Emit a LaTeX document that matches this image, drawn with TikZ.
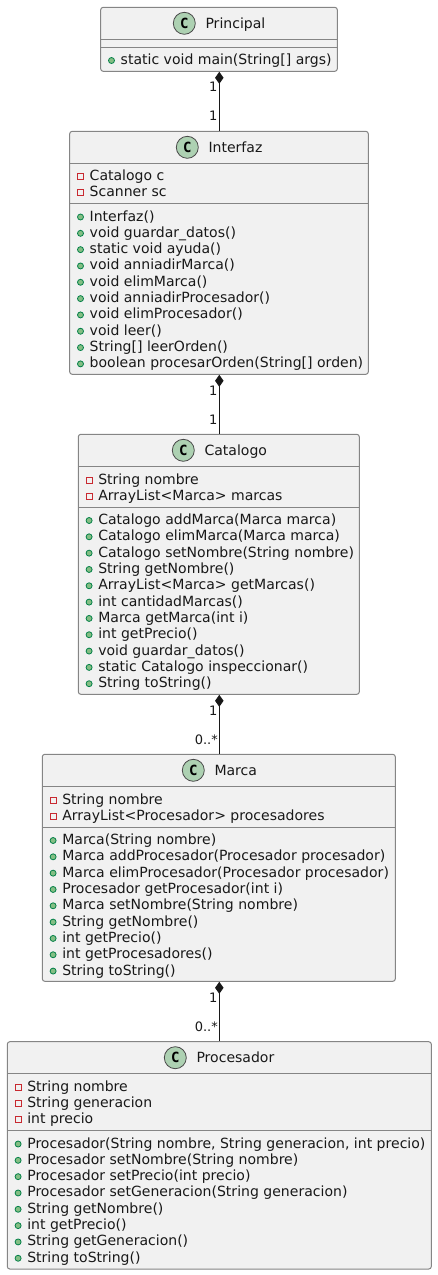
\documentclass[tikz,border=0pt]{standalone}
\usepackage{fontspec}
\setmainfont{DejaVu Sans}
\newfontfamily\cfont{DejaVu Sans Mono}
\usetikzlibrary{arrows.meta}
\definecolor{umlline}{HTML}{181818}
\definecolor{boxline}{HTML}{858585}
\definecolor{umlfill}{HTML}{F1F1F1}
\definecolor{umlspot}{HTML}{ADD1B2}
\definecolor{spotline}{HTML}{4A4A4A}
\definecolor{pubfill}{HTML}{84BE84}
\definecolor{publine}{HTML}{038048}
\definecolor{privline}{HTML}{C82930}
\tikzset{
  x=1pt,y=-1pt,
  classbox/.style={draw=boxline,fill=umlfill,line width=1pt,rounded corners=2.5pt,inner sep=0pt,anchor=center},
  sepline/.style={draw=boxline,line width=1pt},
  spot/.style={circle,draw=spotline,fill=umlspot,line width=0.8pt,minimum size=22pt,inner sep=0pt},
  spotletter/.style={font=\cfont\bfseries\fontsize{14}{16}\selectfont,inner sep=0pt,text=black},
  titletext/.style={font=\fontsize{14.04}{16}\selectfont,anchor=base west,inner sep=0pt,text=umlline},
  rowtext/.style={font=\fontsize{14.04}{16}\selectfont,anchor=base west,inner sep=0pt,text=umlline},
  pubicon/.style={circle,draw=publine,fill=pubfill,line width=0.8pt,minimum size=6pt,inner sep=0pt},
  privicon/.style={rectangle,draw=privline,fill=none,line width=0.8pt,minimum size=6pt,inner sep=0pt},
  mult/.style={font=\fontsize{13}{15}\selectfont,anchor=base east,inner sep=0pt,text=umlline},
  compo/.style={draw=umlline,line width=1pt,{Diamond[length=12pt,width=8.5pt,fill=umlline]}-},
}
% id, x1, y1, x2, y2, header line, attribute line, spot x, title
\newcommand{\umlbox}[9]{
  \pgfmathsetmacro{\bw}{#4-#2}
  \pgfmathsetmacro{\bh}{#5-#3}
  \pgfmathsetmacro{\bcx}{(#4+#2)/2}
  \pgfmathsetmacro{\bcy}{(#5+#3)/2}
  \pgfmathsetmacro{\spy}{#3+16}
  \pgfmathsetmacro{\tty}{#3+21}
  \pgfmathsetmacro{\ttx}{#8+21}
  \node[classbox,minimum width=\bw pt,minimum height=\bh pt] (#1) at (\bcx,\bcy) {};
  \draw[sepline] (#2,#6) -- (#4,#6);
  \draw[sepline] (#2,#7) -- (#4,#7);
  \node[spot] (#1-spot) at (#8,\spy) {};
  \node[spotletter] (#1-c) at (#8,\spy) {C};
  \node[titletext] (#1-title) at (\ttx,\tty) {#9};
}
% id, box left, first baseline, icon style, list
\newcommand{\umlrows}[5]{
  \foreach \t [count=\i from 0] in {#5} {
    \pgfmathsetmacro{\ry}{#3+16.32*\i}
    \pgfmathsetmacro{\iy}{\ry-4}
    \pgfmathsetmacro{\ix}{#2+10.8}
    \pgfmathsetmacro{\tx}{#2+19.8}
    \node[#4] (#1-#4-i\i) at (\ix,\iy) {};
    \node[rowtext] (#1-#4-t\i) at (\tx,\ry) {\t};
  }
}
\begin{document}
\begin{tikzpicture}
\useasboundingbox (0,0) rectangle (437,1275);
\coordinate (axis) at (219.3,0);

\umlbox{principal}{100.7}{7.3}{337.3}{71.3}{39.3}{47.3}{184.3}{Principal}
\umlrows{principal}{100.7}{64.5}{pubicon}{{static void main(String[] args)}}

\umlbox{interfaz}{69.7}{131.3}{368.3}{374.3}{163.3}{203.7}{187.3}{Interfaz}
\umlrows{interfaz}{69.7}{180.5}{privicon}{{Catalogo c},{Scanner sc}}
\umlrows{interfaz}{69.7}{221}{pubicon}{{Interfaz()},{void guardar\_datos()},{static void ayuda()},{void anniadirMarca()},{void elimMarca()},{void anniadirProcesador()},{void elimProcesador()},{void leer()},{String[] leerOrden()},{boolean procesarOrden(String[] orden)}}

\umlbox{catalogo}{78.3}{434.3}{359.3}{694.3}{466.3}{507.3}{183.3}{Catalogo}
\umlrows{catalogo}{78.3}{484}{privicon}{{String nombre},{ArrayList<Marca> marcas}}
\umlrows{catalogo}{78.3}{524.5}{pubicon}{{Catalogo addMarca(Marca marca)},{Catalogo elimMarca(Marca marca)},{Catalogo setNombre(String nombre)},{String getNombre()},{ArrayList<Marca> getMarcas()},{int cantidadMarcas()},{Marca getMarca(int i)},{int getPrecio()},{void guardar\_datos()},{static Catalogo inspeccionar()},{String toString()}}

\umlbox{marca}{42.3}{754.3}{395.3}{981.3}{786.3}{827.3}{193.3}{Marca}
\umlrows{marca}{42.3}{804}{privicon}{{String nombre},{ArrayList<Procesador> procesadores}}
\umlrows{marca}{42.3}{844.5}{pubicon}{{Marca(String nombre)},{Marca addProcesador(Procesador procesador)},{Marca elimProcesador(Procesador procesador)},{Procesador getProcesador(int i)},{Marca setNombre(String nombre)},{String getNombre()},{int getPrecio()},{int getProcesadores()},{String toString()}}

\umlbox{procesador}{7.3}{1041.7}{431.3}{1269}{1073.3}{1130}{175.3}{Procesador}
\umlrows{procesador}{7.3}{1091}{privicon}{{String nombre},{String generacion},{int precio}}
\umlrows{procesador}{7.3}{1148}{pubicon}{{Procesador(String nombre, String generacion, int precio)},{Procesador setNombre(String nombre)},{Procesador setPrecio(int precio)},{Procesador setGeneracion(String generacion)},{String getNombre()},{int getPrecio()},{String getGeneracion()},{String toString()}}

\draw[compo] (axis |- principal.south) -- (axis |- interfaz.north);
\draw[compo] (axis |- interfaz.south) -- (axis |- catalogo.north);
\draw[compo] (axis |- catalogo.south) -- (axis |- marca.north);
\draw[compo] (axis |- marca.south) -- (axis |- procesador.north);

\node[mult] (m1a) at (217.5,91.7) {1};
\node[mult] (m1b) at (217.5,120.2) {1};
\node[mult] (m2a) at (217.5,395.7) {1};
\node[mult] (m2b) at (217.5,424.3) {1};
\node[mult] (m3a) at (217.5,715) {1};
\node[mult] (m3b) at (218,744) {0..*};
\node[mult] (m4a) at (217.5,1002.3) {1};
\node[mult] (m4b) at (218,1031) {0..*};
\end{tikzpicture}
\end{document}
